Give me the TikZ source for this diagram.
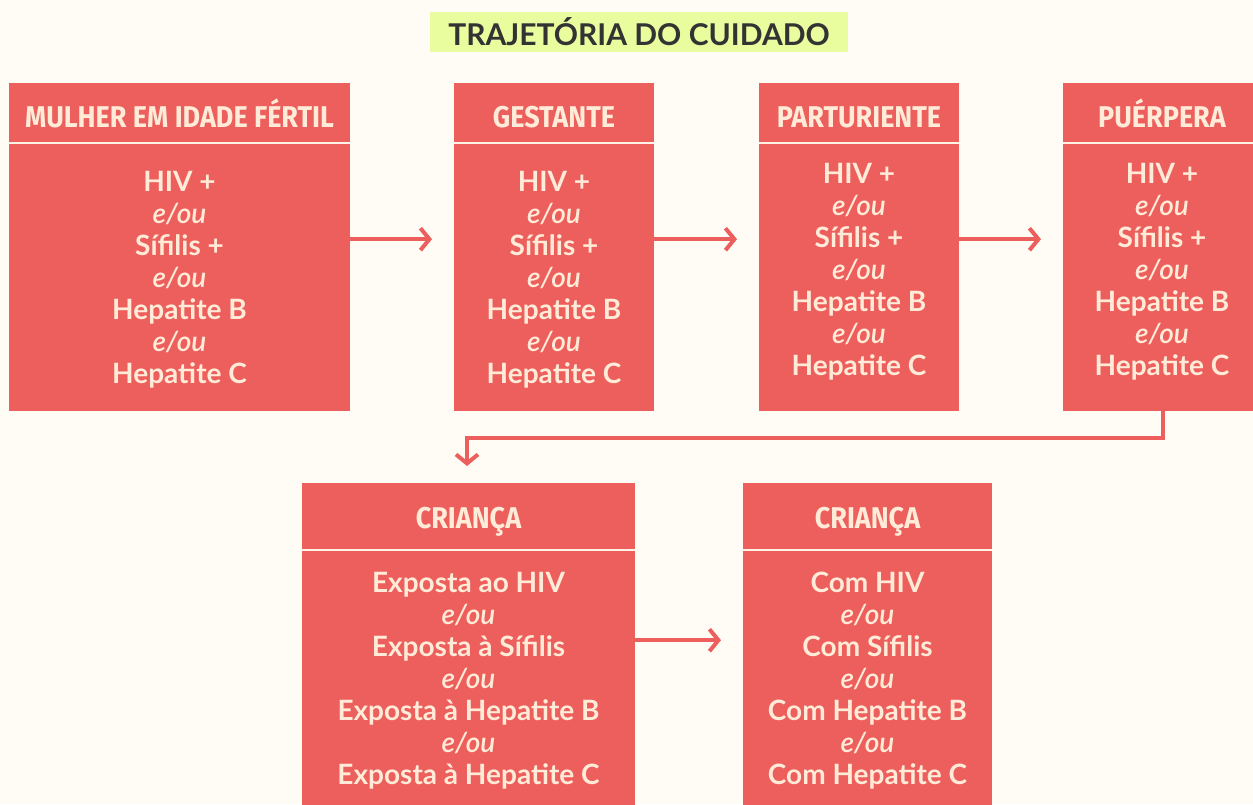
\documentclass[tikz,border=0pt]{standalone}
\usepackage{fontspec}
\usetikzlibrary{arrows.meta}
\setmainfont{Lato}
\newfontfamily\headfont[FakeStretch=0.9]{Fira Sans}
\newfontfamily\eoufont{Lato Light Italic}
\definecolor{bgc}{HTML}{FFFCF5}
\definecolor{boxc}{HTML}{EC5F5C}
\definecolor{txtc}{HTML}{FFEBD8}
\definecolor{titlebg}{HTML}{EAFD9E}
\definecolor{titletx}{HTML}{333333}
\newcommand{\eou}{{\eoufont e/ou}}
\tikzset{
  boxnode/.style={fill=boxc, draw=none, inner sep=0pt, anchor=north west},
  headnode/.style={text=txtc, font=\headfont\bfseries\fontsize{30}{32}\selectfont, inner sep=0pt, anchor=base},
  bodynode/.style={text=txtc, font=\bfseries\fontsize{28}{32}\selectfont, align=center, inner sep=0pt},
  sepline/.style={draw=txtc!60!white, line width=2.5pt},
  flowarrow/.style={draw=boxc, line width=4pt, -{Straight Barb[length=9pt,width=22pt]}},
}
\begin{document}
\begin{tikzpicture}[x=1pt,y=-1pt]
\fill[bgc] (0,0) rectangle (1253,804);
\useasboundingbox (0,0) rectangle (1253,804);

% title
\node[fill=titlebg, minimum width=418pt, minimum height=40pt, inner sep=0pt,
      text=titletx, font=\bfseries\fontsize{30}{32}\selectfont] (title) at (639,32) {TRAJETÓRIA DO CUIDADO};

% boxes
\node[boxnode, minimum width=341pt, minimum height=328pt] (b1) at (9,83) {};
\node[boxnode, minimum width=200pt, minimum height=328pt] (b2) at (454,83) {};
\node[boxnode, minimum width=200pt, minimum height=328pt] (b3) at (759,83) {};
\node[boxnode, minimum width=190pt, minimum height=328pt] (b4) at (1063,83) {};
\node[boxnode, minimum width=333pt, minimum height=330pt] (b5) at (302,483) {};
\node[boxnode, minimum width=249pt, minimum height=330pt] (b6) at (743,483) {};

% separators
\foreach \b/\d in {b1/60,b2/60,b3/60,b4/60,b5/67,b6/67}{
  \draw[sepline] ([yshift=-\d pt]\b.north west) -- ([yshift=-\d pt]\b.north east);
}

% headers
\node[headnode] (h1) at (179.5,127) {MULHER EM IDADE FÉRTIL};
\node[headnode] (h2) at (554,127) {GESTANTE};
\node[headnode] (h3) at (859,127) {PARTURIENTE};
\node[headnode] (h4) at (1162,127) {PUÉRPERA};
\node[headnode] (h5) at (468.5,528) {CRIANÇA};
\node[headnode] (h6) at (867.5,528) {CRIANÇA};

% bodies
\node[bodynode] (t1) at (179.5,280) {HIV +\\ \eou\\ Sífilis +\\ \eou\\ Hepatite B\\ \eou\\ Hepatite C};
\node[bodynode] (t2) at (554,280) {HIV +\\ \eou\\ Sífilis +\\ \eou\\ Hepatite B\\ \eou\\ Hepatite C};
\node[bodynode] (t3) at (859,272) {HIV +\\ \eou\\ Sífilis +\\ \eou\\ Hepatite B\\ \eou\\ Hepatite C};
\node[bodynode] (t4) at (1162,272) {HIV +\\ \eou\\ Sífilis +\\ \eou\\ Hepatite B\\ \eou\\ Hepatite C};
\node[bodynode] (t5) at (468.5,681) {Exposta ao HIV\\ \eou\\ Exposta à Sífilis\\ \eou\\ Exposta à Hepatite B\\ \eou\\ Exposta à Hepatite C};
\node[bodynode] (t6) at (867.5,681) {Com HIV\\ \eou\\ Com Sífilis\\ \eou\\ Com Hepatite B\\ \eou\\ Com Hepatite C};

% arrows
\draw[flowarrow] ([yshift=8pt]b1.east) -- ([yshift=8pt,xshift=-22pt]b2.west);
\draw[flowarrow] ([yshift=8pt]b2.east) -- ([yshift=8pt,xshift=-22pt]b3.west);
\draw[flowarrow] ([yshift=8pt]b3.east) -- ([yshift=8pt,xshift=-22pt]b4.west);
\draw[flowarrow] ([yshift=8pt]b5.east) -- ([yshift=8pt,xshift=-22pt]b6.west);
\coordinate (turn) at (1163,438);
\draw[flowarrow] (b4.south -| turn) -- (turn) -- (turn -| 467,0) -- ([yshift=17pt]b5.north -| 467,0);
\end{tikzpicture}
\end{document}
